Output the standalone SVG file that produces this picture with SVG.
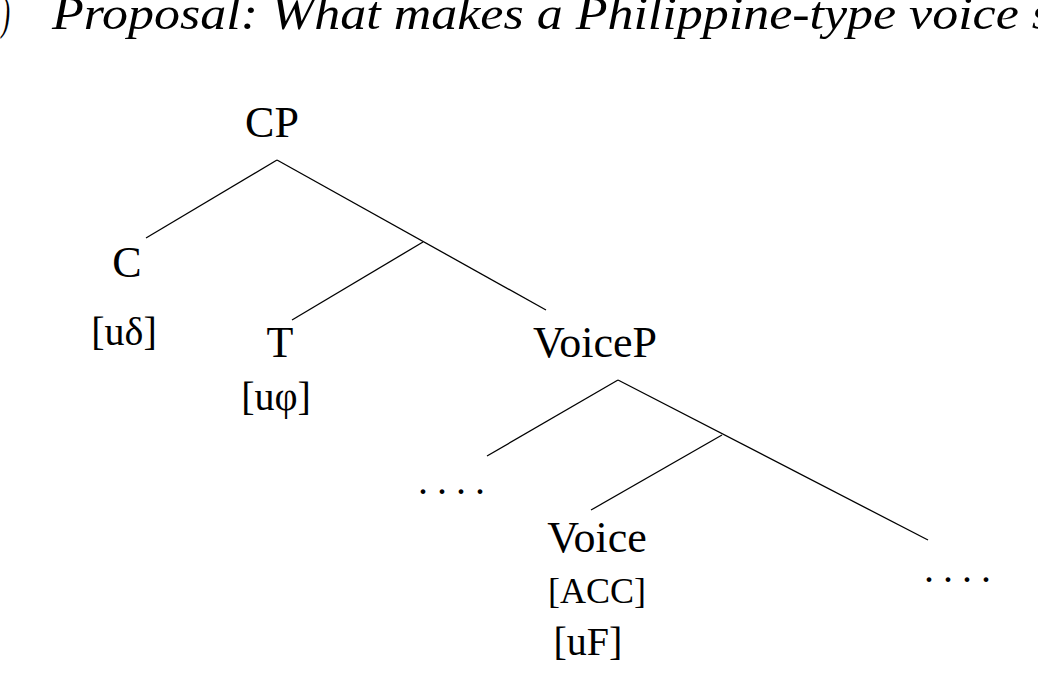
<svg xmlns="http://www.w3.org/2000/svg" width="1038" height="690" viewBox="0 0 1038 690">
<style>
text{font-family:"Liberation Serif","Times New Roman",serif;fill:#000;text-anchor:middle}
.n{font-size:44px}
.f{font-size:40px}
.s{font-size:36px}
.d{font-size:40px;letter-spacing:9px;text-anchor:start}
.t{font-style:italic;font-size:46px;text-anchor:start}
line{stroke:#000;stroke-width:1.3}
</style>
<rect width="1038" height="690" fill="#fff"/>
<text class="t" x="-20" y="29" textLength="30" lengthAdjust="spacingAndGlyphs">(1)</text>
<text class="t" x="52" y="29" textLength="1000" lengthAdjust="spacingAndGlyphs">Proposal: What makes a Philippine-type voice s</text>
<g id="connectors">
<line x1="277" y1="160" x2="146" y2="238"/>
<line x1="277" y1="160" x2="546" y2="310"/>
<line x1="423" y1="242" x2="292" y2="320"/>
<line x1="618" y1="380" x2="487" y2="456"/>
<line x1="618" y1="380" x2="928" y2="540"/>
<line x1="722" y1="435" x2="591" y2="510"/>
</g>
<g id="CP"><text class="n" x="272" y="137">CP</text></g>
<g id="C"><text class="n" x="127" y="277">C</text><text class="f" x="124" y="345">[uδ]</text></g>
<g id="T"><text class="n" x="280" y="357">T</text><text class="f" x="276" y="410">[uφ]</text></g>
<g id="VoiceP"><text class="n" x="595" y="357">VoiceP</text></g>
<g id="dots1"><text class="d" x="418" y="494">....</text></g>
<g id="Voice"><text class="n" x="597" y="552">Voice</text><text class="s" x="597" y="603">[ACC]</text><text class="f" x="588" y="655">[uF]</text></g>
<g id="dots2"><text class="d" x="924" y="582">....</text></g>
</svg>
